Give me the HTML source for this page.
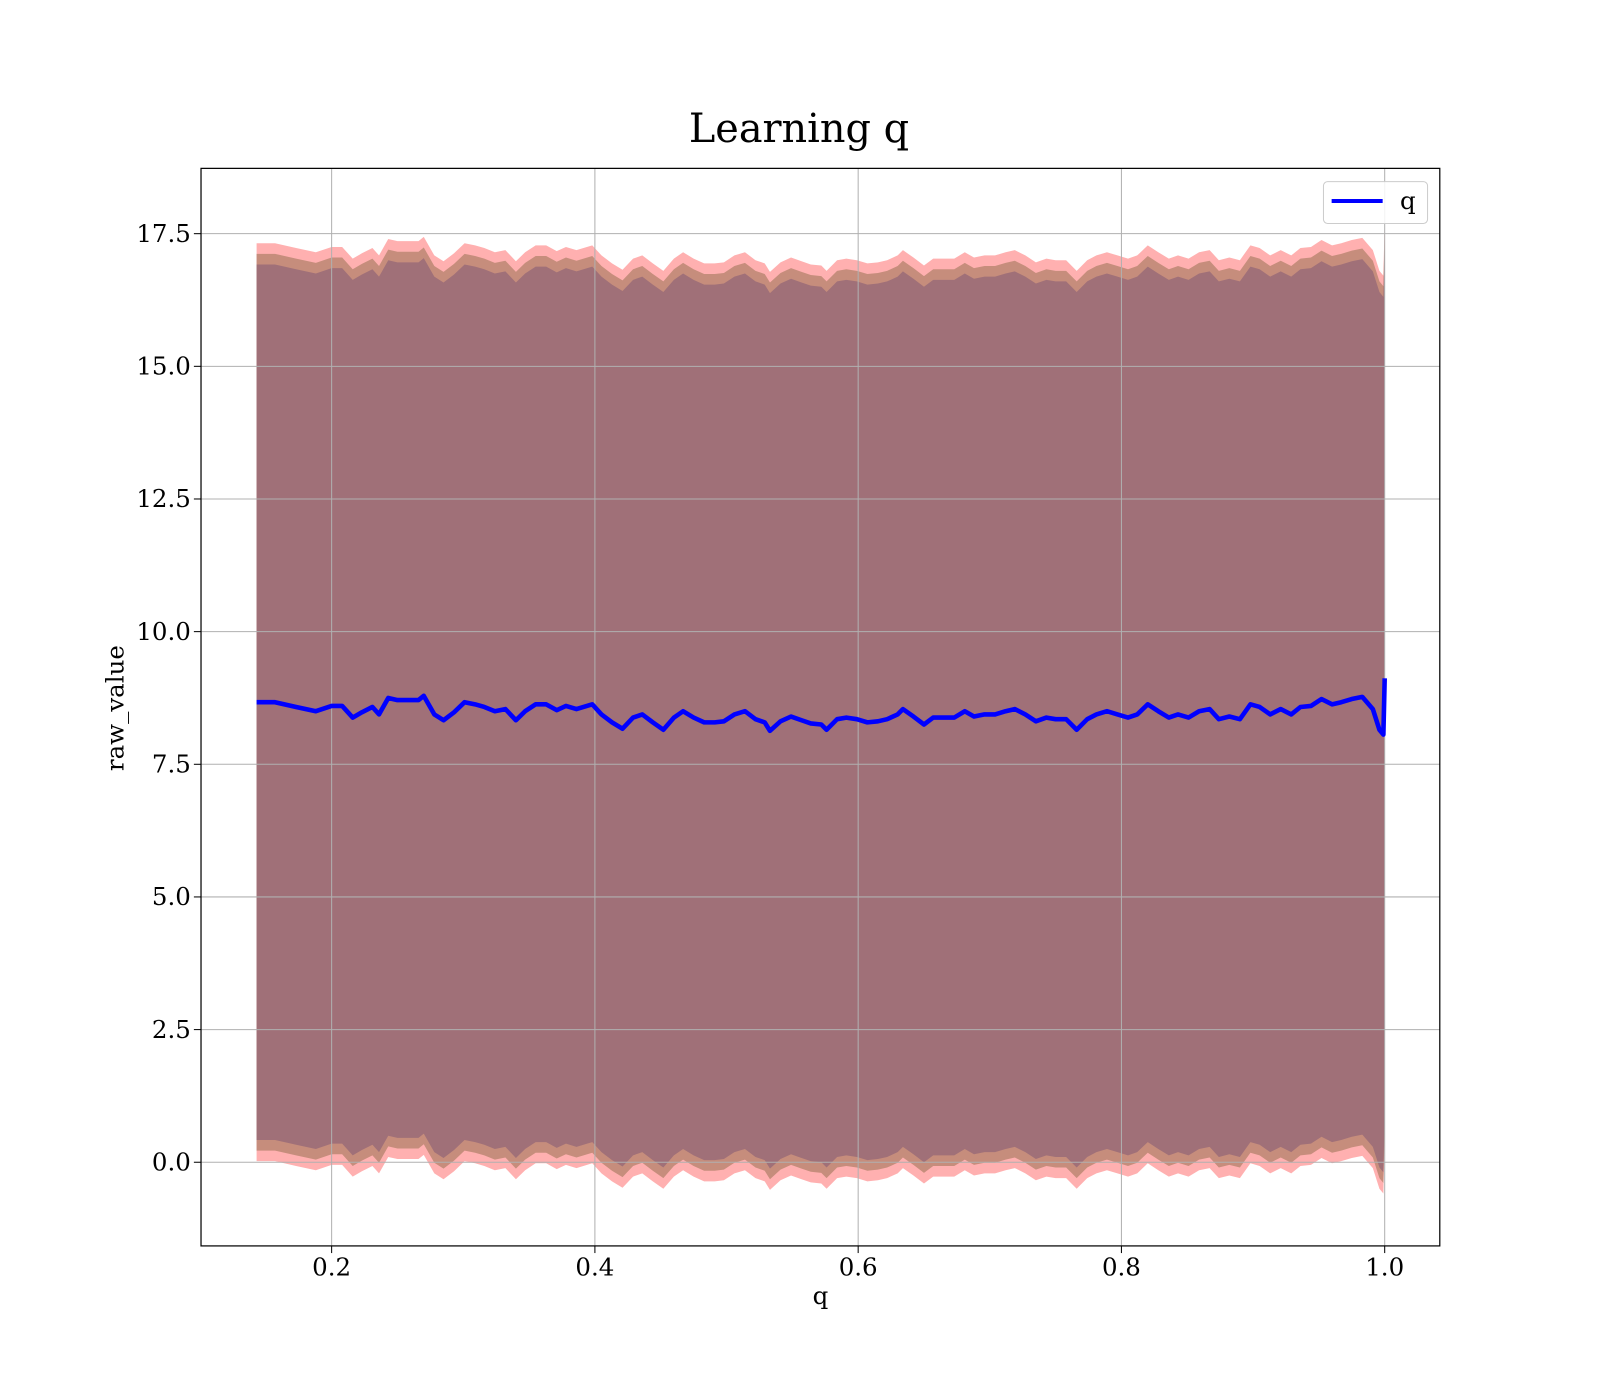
<!DOCTYPE html>
<html><head><meta charset="utf-8"><style>body{margin:0;background:#fff;overflow:hidden}svg{display:block;font-family:"DejaVu Serif","Liberation Serif",serif}</style></head>
<body>
<svg id="chart" width="1600" height="1400" viewBox="0 0 1568 1372" preserveAspectRatio="none">
<rect width="1568" height="1372" fill="#fff"/>
<text x="783" y="139" font-size="39" text-anchor="middle">Learning q</text>
<g id="fills"></g><g id="grid"></g><g id="line"></g>
<rect x="197" y="165" width="1214" height="1056" fill="none" stroke="#000" stroke-width="1.2"/>
<g id="ticks"></g>
<text x="804" y="1278" font-size="24" text-anchor="middle">q</text>
<text transform="translate(121,694) rotate(-90)" font-size="24" text-anchor="middle">raw_value</text>
<g>
<rect x="1297" y="178" width="102" height="41" rx="4" fill="#fff" fill-opacity="0.85" stroke="#ccc"/>
<line x1="1305" y1="197" x2="1355" y2="197" stroke="#0000ff" stroke-width="4"/>
<text x="1372" y="205" font-size="24">q</text>
</g>
</svg>
<script>
const qs=[.143,.157,.173,.188,.200,.208,.216,.223,.231,.236,.243,.250,.258,.266,.270,.278,.285,.293,.301,.309,.316,.324,.332,.340,.347,.355,.363,.371,.378,.386,.398,.405,.413,.421,.429,.436,.444,.452,.460,.467,.475,.483,.491,.498,.506,.514,.522,.529,.533,.541,.549,.557,.564,.572,.576,.584,.591,.599,.607,.615,.622,.630,.634,.642,.650,.657,.665,.673,.681,.688,.696,.704,.712,.719,.727,.735,.743,.750,.758,.766,.774,.781,.789,.797,.805,.812,.820,.828,.836,.843,.851,.859,.867,.874,.882,.890,.898,.905,.913,.921,.929,.936,.944,.952,.960,.967,.975,.983,.991,.996,.999,1.0];
const means=[8.67,8.67,8.58,8.50,8.60,8.60,8.38,8.48,8.58,8.44,8.75,8.71,8.71,8.71,8.79,8.44,8.33,8.48,8.67,8.63,8.58,8.50,8.54,8.33,8.50,8.63,8.63,8.52,8.60,8.54,8.63,8.44,8.29,8.17,8.38,8.44,8.29,8.15,8.38,8.50,8.38,8.29,8.29,8.31,8.44,8.50,8.35,8.29,8.13,8.31,8.40,8.33,8.27,8.25,8.15,8.35,8.38,8.35,8.29,8.31,8.35,8.44,8.54,8.40,8.25,8.38,8.38,8.38,8.50,8.40,8.44,8.44,8.50,8.54,8.44,8.31,8.38,8.35,8.35,8.15,8.35,8.44,8.50,8.44,8.38,8.44,8.63,8.50,8.38,8.44,8.38,8.50,8.54,8.35,8.40,8.35,8.63,8.58,8.44,8.54,8.44,8.58,8.60,8.73,8.63,8.67,8.73,8.77,8.54,8.15,8.06,9.12];
const bandRed=8.65, bandBrown=8.45, bandDark=8.25;
const xTicks=[0.2,0.4,0.6,0.8,1.0], xTickLabels=["0.2","0.4","0.6","0.8","1.0"];
const yTicks=[0,2.5,5,7.5,10,12.5,15,17.5], yTickLabels=["0.0","2.5","5.0","7.5","10.0","12.5","15.0","17.5"];
const X=q=>67+q*1290, Y=v=>1139-v*52;
const NS="http://www.w3.org/2000/svg";
function mk(t,a,p){const e=document.createElementNS(NS,t);for(const k in a)e.setAttribute(k,a[k]);p.appendChild(e);return e;}
const fills=document.getElementById('fills');
function band(w,color,name){
 let up=qs.map((q,i)=>X(q)+','+Y(means[i]+w)), lo=qs.map((q,i)=>X(q)+','+Y(means[i]-w)).reverse();
 const p=mk('polygon',{points:up.concat(lo).join(' '),fill:color},fills);
 
 
}
band(bandRed,'#ffb0b0','band-outer');
band(bandBrown,'#c68d7c','band-middle');
band(bandDark,'#a07078','band-inner');
const grid=document.getElementById('grid'), ticks=document.getElementById('ticks');
xTicks.forEach((t,i)=>{
 const l=mk('line',{x1:X(t),x2:X(t),y1:165,y2:1221,stroke:'#b0b0b0','stroke-width':1},grid);
 
 
 mk('line',{x1:X(t),x2:X(t),y1:1221,y2:1228,stroke:'#000'},ticks);
 const tx=mk('text',{x:X(t),y:1250,'font-size':24,'text-anchor':'middle'},ticks);
 tx.textContent=xTickLabels[i];
 
 
});
yTicks.forEach((t,i)=>{
 const l=mk('line',{x1:197,x2:1411,y1:Y(t),y2:Y(t),stroke:'#b0b0b0','stroke-width':1},grid);
 
 
 mk('line',{x1:190,x2:197,y1:Y(t),y2:Y(t),stroke:'#000'},ticks);
 const tx=mk('text',{x:187,y:Y(t)+8,'font-size':24,'text-anchor':'end'},ticks);
 tx.textContent=yTickLabels[i];
 
 
});
const pl=mk('polyline',{points:qs.map((q,i)=>X(q)+','+Y(means[i])).join(' '),fill:'none',stroke:'#0000ff','stroke-width':4.5,'stroke-linejoin':'round'},document.getElementById('line'));


</script>
</body></html>
